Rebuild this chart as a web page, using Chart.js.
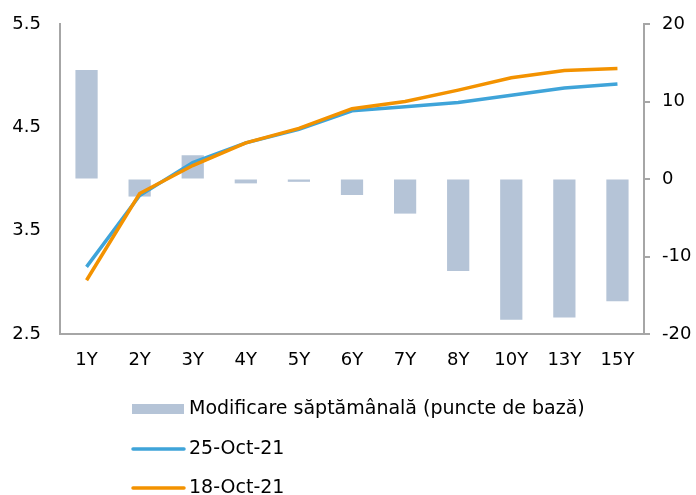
<!DOCTYPE html>
<html>
<head>
<meta charset="utf-8">
<script src="https://cdn.jsdelivr.net/npm/chart.js@4.4.0/dist/chart.umd.min.js"></script>
<style>
html, body { margin: 0; padding: 0; background: #ffffff; }
canvas { display: block; }
</style>
</head>
<body>
<canvas id="c" width="696" height="495"></canvas>
<script>
const categories = ['1Y', '2Y', '3Y', '4Y', '5Y', '6Y', '7Y', '8Y', '10Y', '13Y', '15Y'];
const weeklyChange = [14.0, -2.2, 3.0, -0.5, -0.3, -2.0, -4.4, -11.8, -18.1, -17.8, -15.7];
const yield25Oct = [3.15, 3.84, 4.16, 4.35, 4.48, 4.66, 4.70, 4.74, 4.81, 4.88, 4.92];
const yield18Oct = [3.02, 3.86, 4.13, 4.35, 4.49, 4.68, 4.75, 4.86, 4.98, 5.05, 5.07];
const seriesLabels = ['Modificare săptămânală (puncte de bază)', '25-Oct-21', '18-Oct-21'];
const leftTicks = [2.5, 3.5, 4.5, 5.5];
const rightTicks = [-20, -10, 0, 10, 20];

const FONT = '"DejaVu Sans", sans-serif';
const AXIS = '#a6a6a6';

const legendPlugin = {
  id: 'stackedLegend',
  afterDraw(chart) {
    const ctx = chart.ctx;
    const area = chart.chartArea;
    const x0 = 132, symW = 52, gap = 5;
    const rows = [area.bottom + 75, area.bottom + 115, area.bottom + 154];
    ctx.save();
    ctx.font = '19px ' + FONT;
    ctx.textBaseline = 'middle';
    ctx.textAlign = 'left';
    chart.data.datasets.forEach((ds, i) => {
      const y = rows[i];
      if (ds.type === 'bar') {
        ctx.fillStyle = ds.backgroundColor;
        ctx.fillRect(x0, y - 5, symW, 10);
      } else {
        ctx.strokeStyle = ds.borderColor;
        ctx.lineWidth = 3.5;
        ctx.lineCap = 'round';
        ctx.beginPath();
        ctx.moveTo(x0 + 1, y);
        ctx.lineTo(x0 + symW, y);
        ctx.stroke();
      }
      ctx.fillStyle = '#000000';
      ctx.fillText(ds.label, x0 + symW + gap, y);
    });
    ctx.restore();
  }
};

function noOverflow(scale, w) {
  scale.width = w;
  scale.paddingTop = 0;
  scale.paddingBottom = 0;
}

new Chart(document.getElementById('c'), {
  data: {
    labels: categories,
    datasets: [
      {
        type: 'bar',
        label: seriesLabels[0],
        data: weeklyChange,
        yAxisID: 'y1',
        backgroundColor: '#b5c4d7',
        barPercentage: 0.4,
        categoryPercentage: 1.0,
        inflateAmount: 0.5,
        order: 3
      },
      {
        type: 'line',
        label: seriesLabels[1],
        data: yield25Oct,
        yAxisID: 'y',
        borderColor: '#3fa4d9',
        borderWidth: 3.5,
        pointRadius: 0,
        tension: 0,
        order: 2
      },
      {
        type: 'line',
        label: seriesLabels[2],
        data: yield18Oct,
        yAxisID: 'y',
        borderColor: '#f39200',
        borderWidth: 3.5,
        pointRadius: 0,
        tension: 0,
        order: 1
      }
    ]
  },
  options: {
    responsive: false,
    animation: false,
    devicePixelRatio: 1,
    layout: { padding: { top: 24, left: 0, right: 0, bottom: 0 } },
    plugins: {
      legend: { display: false },
      tooltip: { enabled: false }
    },
    scales: {
      x: {
        offset: true,
        grid: { display: false, drawTicks: false },
        border: { display: true, color: AXIS, width: 2 },
        ticks: { color: '#000', font: { family: FONT, size: 18 }, padding: 16, maxRotation: 0, autoSkip: false },
        afterFit(scale) { scale.height = 161; }
      },
      y: {
        position: 'left',
        min: 2.5,
        max: 5.5,
        afterBuildTicks(scale) { scale.ticks = leftTicks.map(v => ({ value: v })); },
        grid: { display: false, drawTicks: false },
        border: { display: true, color: AXIS, width: 2 },
        ticks: { color: '#000', font: { family: FONT, size: 18 }, padding: 19, callback: v => v.toFixed(1) },
        afterFit(scale) { noOverflow(scale, 60); }
      },
      y1: {
        position: 'right',
        min: -20,
        max: 20,
        afterBuildTicks(scale) { scale.ticks = rightTicks.map(v => ({ value: v })); },
        grid: { display: true, drawOnChartArea: false, drawTicks: true, tickLength: 6, color: AXIS, lineWidth: 2 },
        border: { display: true, color: AXIS, width: 2 },
        ticks: { color: '#000', font: { family: FONT, size: 18 }, padding: 12 },
        afterFit(scale) { noOverflow(scale, 52); }
      }
    }
  },
  plugins: [legendPlugin]
});
</script>
</body>
</html>
